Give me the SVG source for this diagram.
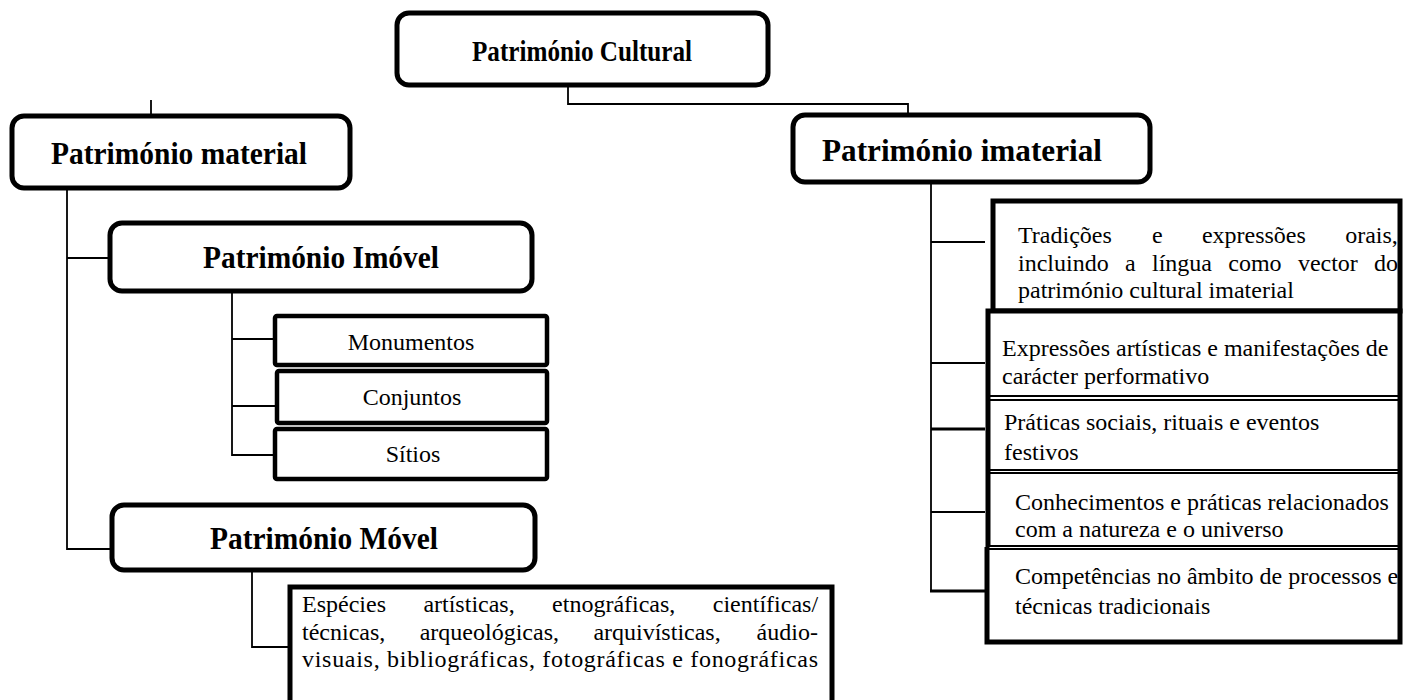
<svg xmlns="http://www.w3.org/2000/svg" width="1403" height="700" viewBox="0 0 1403 700">
<style>
.hd{fill:#fff;stroke:#000;stroke-width:5}
.bx{fill:#fff;stroke:#000;stroke-width:4.5}
.tk{stroke:#000;stroke-width:5;fill:none}
.tn{stroke:#000;stroke-width:2;fill:none}
.cn{stroke:#000;stroke-width:1.8;fill:none}
.cb{stroke:#000;stroke-width:3;fill:none}
.h{font-family:"Liberation Serif","Times New Roman",serif;font-weight:bold;fill:#000;text-anchor:middle}
.t{font-family:"Liberation Serif","Times New Roman",serif;font-size:24px;fill:#000}
.c{text-anchor:middle}
</style>
<rect width="1403" height="700" fill="#fff"/>
<g id="connectors">
<polyline class="cn" points="568,85 568,104 908,104 908,115"/>
<line class="cn" x1="151" y1="100" x2="151" y2="116"/>
<polyline class="cn" points="67,188 67,549 112,549"/>
<line class="cn" x1="67" y1="258" x2="110" y2="258"/>
<polyline class="cn" points="232,291 232,455 275,455"/>
<line class="cn" x1="232" y1="339" x2="275" y2="339"/>
<line class="cn" x1="232" y1="406" x2="277" y2="406"/>
<polyline class="cn" points="252,570 252,647 290,647"/>
<line class="cn" x1="931" y1="182" x2="931" y2="592"/>
<line class="cn" x1="931" y1="242" x2="985" y2="242"/>
<line class="cn" x1="931" y1="363" x2="985" y2="363"/>
<line class="cb" x1="931" y1="429" x2="985" y2="429"/>
<line class="cn" x1="931" y1="512" x2="985" y2="512"/>
<line class="cb" x1="930" y1="591" x2="988" y2="591"/>
</g>
<g id="patrimonio-cultural">
<rect class="hd" x="397" y="13" width="371" height="72" rx="12"/>
<text class="h" x="582" y="61" font-size="29" textLength="220" lengthAdjust="spacingAndGlyphs">Património Cultural</text>
</g>
<g id="patrimonio-material">
<rect class="hd" x="12" y="116" width="338" height="72" rx="12"/>
<text class="h" x="179" y="164" font-size="31" textLength="256" lengthAdjust="spacingAndGlyphs">Património material</text>
</g>
<g id="patrimonio-imaterial">
<rect class="hd" x="793" y="115" width="357" height="67" rx="12"/>
<text class="h" x="962" y="161" font-size="32" textLength="280" lengthAdjust="spacingAndGlyphs">Património imaterial</text>
</g>
<g id="patrimonio-imovel">
<rect class="hd" x="110" y="223" width="422" height="68" rx="12"/>
<text class="h" x="321" y="268" font-size="31" textLength="236" lengthAdjust="spacingAndGlyphs">Património Imóvel</text>
</g>
<g id="monumentos">
<rect class="bx" x="275" y="316" width="272" height="49" rx="2"/>
<text class="t c" x="411" y="350">Monumentos</text>
</g>
<g id="conjuntos">
<rect class="bx" x="277" y="371" width="270" height="52" rx="2"/>
<text class="t c" x="412" y="405">Conjuntos</text>
</g>
<g id="sitios">
<rect class="bx" x="275" y="429" width="272" height="50" rx="2"/>
<text class="t c" x="413" y="462">Sítios</text>
</g>
<g id="patrimonio-movel">
<rect class="hd" x="112" y="505" width="423" height="65" rx="12"/>
<text class="h" x="324" y="549" font-size="31" textLength="228" lengthAdjust="spacingAndGlyphs">Património Móvel</text>
</g>
<g id="especies">
<rect class="tk" x="290" y="587" width="542" height="120" fill="#fff"/>
<text class="t" y="612"><tspan x="302">Espécies</tspan><tspan x="423.4">artísticas,</tspan><tspan x="552.1">etnográficas,</tspan><tspan x="712.8">científicas/</tspan></text>
<text class="t" y="640"><tspan x="302">técnicas,</tspan><tspan x="419.7">arqueológicas,</tspan><tspan x="593.4">arquivísticas,</tspan><tspan x="756.6">áudio-</tspan></text>
<text class="t" x="302" y="667" textLength="516" lengthAdjust="spacing">visuais, bibliográficas, fotográficas e fonográficas</text>
</g>
<g id="tradicoes">
<rect class="tk" x="993" y="201" width="407" height="110" fill="#fff"/>
<text class="t" y="243"><tspan x="1018">Tradições</tspan><tspan x="1151.9">e</tspan><tspan x="1201.9">expressões</tspan><tspan x="1345.2">orais,</tspan></text>
<text class="t" y="271"><tspan x="1018">incluindo</tspan><tspan x="1125">a</tspan><tspan x="1152">língua</tspan><tspan x="1228.3">como</tspan><tspan x="1297.9">vector</tspan><tspan x="1374">do</tspan></text>
<text class="t" x="1018" y="298">património cultural imaterial</text>
</g>
<g id="expressoes">
<rect x="988" y="311" width="412" height="86" fill="#fff"/>
<polyline class="tk" points="988,397 988,311 1400,311 1400,397"/>
<line class="tn" x1="988" y1="396" x2="1400" y2="396"/>
<text class="t" x="1002" y="356">Expressões artísticas e manifestações de</text>
<text class="t" x="1002" y="384">carácter performativo</text>
</g>
<g id="praticas">
<rect x="988" y="400" width="412" height="70" fill="#fff"/>
<line class="tn" x1="988" y1="400" x2="1400" y2="400"/>
<line class="tn" x1="988" y1="470" x2="1400" y2="470"/>
<line class="tk" x1="988" y1="397" x2="988" y2="471"/>
<line class="tk" x1="1400" y1="397" x2="1400" y2="471"/>
<text class="t" x="1004" y="430">Práticas sociais, rituais e eventos</text>
<text class="t" x="1004" y="460">festivos</text>
</g>
<g id="conhecimentos">
<rect x="988" y="473" width="412" height="73" fill="#fff"/>
<line class="tn" x1="988" y1="473" x2="1400" y2="473"/>
<line class="tn" x1="988" y1="546" x2="1400" y2="546"/>
<line class="tk" x1="988" y1="471" x2="988" y2="547"/>
<line class="tk" x1="1400" y1="471" x2="1400" y2="547"/>
<text class="t" x="1015" y="510">Conhecimentos e práticas relacionados</text>
<text class="t" x="1015" y="537">com a natureza e o universo</text>
</g>
<g id="competencias">
<rect x="987" y="549" width="413" height="93" fill="#fff"/>
<line class="tn" x1="987" y1="549" x2="1400" y2="549"/>
<polyline class="tk" points="987,547 987,642 1400,642 1400,547"/>
<text class="t" x="1015" y="584">Competências no âmbito de processos e</text>
<text class="t" x="1015" y="614">técnicas tradicionais</text>
</g>
</svg>
